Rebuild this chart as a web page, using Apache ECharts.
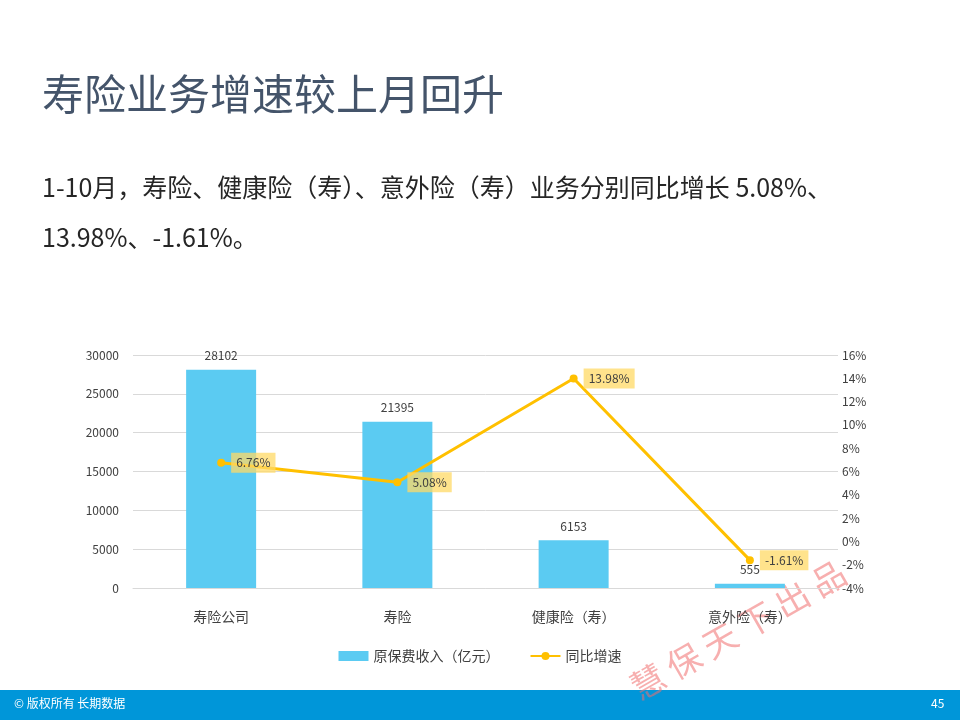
<!DOCTYPE html>
<html lang="zh">
<head>
<meta charset="UTF-8" />
<style>
  body { margin: 0; background: #fff; }
  #chart { width: 960px; height: 720px; }
</style>
</head>
<body>
<div id="chart"></div>
<script src="https://cdn.jsdelivr.net/npm/echarts@6/dist/echarts.min.js"></script>
<script>
const categories = ['寿险公司', '寿险', '健康险（寿）', '意外险（寿）'];
const premium = [28102, 21395, 6153, 555];
const growth = [6.76, 5.08, 13.98, -1.61];

const font = '"Noto Sans CJK SC", sans-serif';
const chart = echarts.init(document.getElementById('chart'));
chart.setOption({
  animation: false,
  textStyle: { fontFamily: font },
  graphic: [
    { type: 'text', left: 42, top: 73, style: { text: '寿险业务增速较上月回升', font: '42px ' + font, fill: '#44546a' } },
    { type: 'text', left: 42, top: 162, style: { text: '1-10月，寿险、健康险（寿）、意外险（寿）业务分别同比增长 5.08%、\n13.98%、-1.61%。', font: '25px ' + font, fill: '#262626', lineHeight: 50 } },
    { type: 'rect', left: 0, top: 690, shape: { width: 960, height: 30 }, style: { fill: '#0096d9' } },
    { type: 'text', left: 14, top: 697, style: { text: '© 版权所有 长期数据', font: '12px ' + font, fill: '#fff' } },
    { type: 'text', left: 931, top: 697, style: { text: '45', font: '12px ' + font, fill: '#fff' } },
    { type: 'text', x: 738, y: 630, rotation: 0.52, style: { text: '慧 保 天 下 出 品', font: '34px ' + font, fill: 'rgba(240,110,110,0.55)', align: 'center', verticalAlign: 'middle' } }
  ],
  grid: { left: 133, right: 122, top: 355, bottom: 132 },
  legend: {
    bottom: 52, left: 'center', itemGap: 30, itemWidth: 30, itemHeight: 10,
    textStyle: { fontSize: 14, color: '#404040' },
    data: [{ name: '原保费收入（亿元）', icon: 'rect' }, '同比增速']
  },
  xAxis: {
    type: 'category', data: categories,
    axisLine: { lineStyle: { color: '#d9d9d9' } }, axisTick: { show: false },
    axisLabel: { fontSize: 14, color: '#404040', margin: 22 }
  },
  yAxis: [
    { type: 'value', min: 0, max: 30000, interval: 5000,
      axisLabel: { fontSize: 12, color: '#404040', margin: 14, formatter: v => String(v) },
      splitLine: { lineStyle: { color: '#d9d9d9' } } },
    { type: 'value', min: -4, max: 16, interval: 2,
      axisLabel: { fontSize: 12, color: '#404040', formatter: '{value}%', margin: 4 },
      splitLine: { show: false } }
  ],
  series: [
    { name: '原保费收入（亿元）', type: 'bar', data: premium, barWidth: 70,
      itemStyle: { color: '#5bcbf2' },
      label: { show: true, position: 'top', fontSize: 12, color: '#404040', distance: 8 } },
    { name: '同比增速', type: 'line', yAxisIndex: 1, data: growth,
      symbol: 'circle', symbolSize: 8,
      itemStyle: { color: '#ffc000' }, lineStyle: { color: '#ffc000', width: 3 },
      label: { show: true, position: 'right', distance: 6, formatter: '{c}%', fontSize: 12, color: '#404040',
        backgroundColor: 'rgba(255,217,102,0.75)', padding: [4, 5] } }
  ]
});
</script>
</body>
</html>
